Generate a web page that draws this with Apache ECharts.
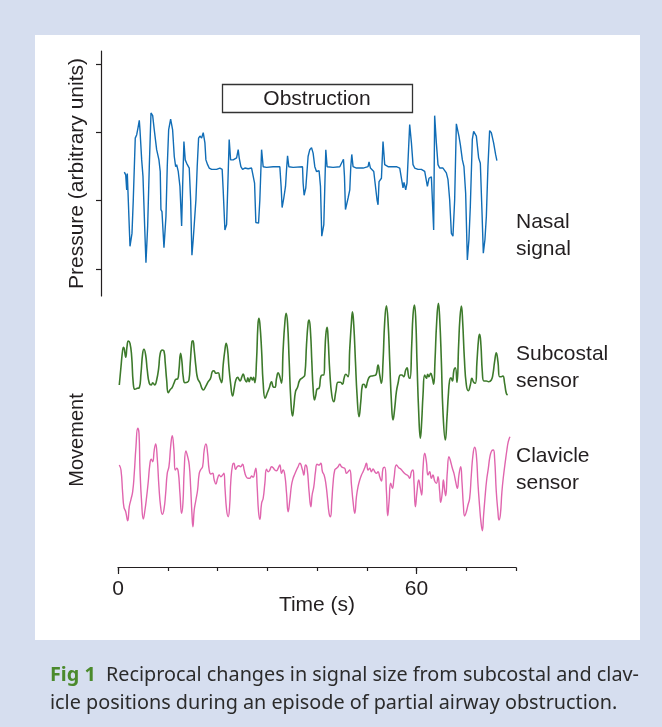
<!DOCTYPE html>
<html>
<head>
<meta charset="utf-8">
<script src="https://cdn.jsdelivr.net/npm/echarts@6/dist/echarts.min.js"></script>
<style>
  body { margin: 0; background: #d6deef; }
  #panel { position: absolute; left: 35px; top: 35px; width: 605px; height: 605px; background: #fff; }
  #main { position: absolute; left: 0; top: 0; width: 662px; height: 727px; }
</style>
</head>
<body>
<div id="panel"></div>
<div id="main"></div>
<script>
// time axis (s)
var timeTicks = [0, 10, 20, 30, 40, 50, 60, 70, 80]
var timeLabels = [0, 60]
var pressureTicks = [1, 2, 3, 4]

// nasal pressure signal [time, arbitrary units]
var nasalSignal = [
  [1.27,2.42],[1.55,2.38],[1.75,2.16],[1.87,2.40],[2.07,2.38],[2.41,1.33],[2.81,1.52],[3.07,2.01],[3.47,2.92],[3.76,2.97],
  [4.02,3.07],[4.28,3.18],[4.42,3.04],[4.76,2.60],[5.02,2.36],[5.36,1.62],[5.62,1.09],[5.96,1.62],[6.29,2.50],[6.63,3.29],
  [6.97,3.25],[7.29,3.04],[7.77,2.75],[8.23,2.60],[8.49,2.43],[8.63,1.87],[8.84,1.84],[9.24,1.31],[9.64,1.77],[9.90,2.50],
  [10.18,3.04],[10.58,3.20],[10.98,3.04],[11.31,2.65],[11.59,2.50],[11.79,2.53],[12.11,2.43],[12.45,2.21],[12.79,1.63],[12.99,2.21],
  [13.25,2.87],[13.51,2.60],[13.80,2.55],[14.12,2.55],[14.32,2.48],[14.60,2.01],[14.86,1.20],[15.12,1.43],[15.46,1.45],[15.66,2.01],
  [15.92,2.50],[16.20,2.92],[16.47,2.95],[16.81,2.92],[17.13,3.00],[17.47,2.85],[17.67,2.60],[18.01,2.53],[18.33,2.48],[18.82,2.46],
  [19.14,2.48],[19.82,2.46],[20.48,2.48],[20.94,2.46],[21.14,2.16],[21.49,1.57],[21.83,1.65],[22.15,2.41],[22.35,2.90],[22.63,2.60],
  [23.15,2.60],[23.84,2.63],[24.16,2.75],[24.36,2.63],[24.70,2.50],[25.04,2.46],[25.50,2.48],[26.16,2.47],[26.85,2.48],[27.17,2.46],
  [27.45,2.26],[27.71,1.68],[28.25,1.67],[28.51,2.01],[28.86,2.75],[29.18,2.50],[29.86,2.49],[31.18,2.50],[32.53,2.50],[32.79,2.21],
  [32.99,1.90],[33.33,2.04],[33.67,2.21],[33.88,2.46],[34.08,2.66],[34.34,2.50],[35.20,2.49],[37.09,2.50],[37.21,2.26],[37.41,2.08],
  [37.75,2.19],[38.21,2.65],[38.55,2.75],[38.90,2.78],[39.22,2.70],[39.56,2.50],[39.90,2.43],[40.42,2.44],[40.70,2.21],[40.96,1.48],
  [41.37,1.65],[41.57,2.21],[41.77,2.75],[42.03,2.50],[43.23,2.49],[44.58,2.50],[45.12,2.58],[45.32,2.61],[45.52,2.36],[45.72,1.87],
  [46.25,2.04],[46.59,2.16],[46.79,2.50],[46.99,2.68],[47.25,2.50],[47.93,2.48],[49.26,2.48],[50.26,2.50],[50.46,2.57],[50.74,2.48],
  [51.41,2.43],[51.81,2.41],[52.07,2.01],[52.27,1.94],[52.47,2.28],[52.95,2.33],[53.27,2.87],[53.61,2.53],[54.28,2.50],[55.96,2.50],
  [56.63,2.48],[56.97,2.46],[57.29,2.19],[57.49,2.27],[57.83,2.16],[58.09,2.26],[58.43,2.28],[58.63,3.12],[58.98,2.85],[59.30,2.53],
  [59.64,2.48],[60.30,2.46],[60.98,2.46],[61.65,2.43],[61.99,2.43],[62.19,2.21],[62.51,2.33],[62.99,2.35],[63.31,2.33],[63.45,1.57],
  [63.65,3.25],[63.99,2.85],[64.32,2.53],[64.66,2.48],[65.00,2.46],[65.32,2.48],[65.66,2.46],[66.00,2.41],[66.33,2.31],[66.67,2.01],
  [67.01,1.52],[67.33,1.48],[67.67,2.01],[68.01,3.13],[68.27,3.12],[68.53,2.95],[68.82,2.82],[69.22,2.60],[69.54,2.50],[69.88,2.11],
  [70.22,1.13],[70.54,1.43],[70.82,1.92],[71.22,2.90],[71.49,3.02],[72.03,2.95],[72.49,2.63],[72.83,2.55],[73.15,1.87],[73.43,1.23],
  [73.76,1.43],[74.04,1.77],[74.36,2.50],[74.70,3.03],[75.04,3.00],[75.50,2.85],[75.90,2.68],[76.16,2.59]
]

// subcostal movement [time, arbitrary units]
var subcostal = [
  [0.26,0],[0.60,1.83],[0.94,3.5],[1.14,3.77],[1.55,2.77],[1.81,3.83],[2.07,4.4],[2.41,4.17],[2.75,2.83],[3.07,0.17],
  [3.41,-0.43],[3.88,-0.33],[4.28,-0.27],[4.62,1.17],[4.96,3.17],[5.22,3.57],[5.56,3.0],[5.88,1.5],[6.29,0.17],[6.69,0],
  [6.97,0.23],[7.37,0],[7.77,0.5],[8.17,1.67],[8.49,3.17],[8.90,3.5],[9.24,3.4],[9.50,2.17],[9.78,0.5],[10.10,-0.77],
  [10.44,-0.5],[10.90,-0.23],[11.24,0.17],[11.65,0.57],[11.99,0.6],[12.25,1.5],[12.59,3.17],[12.85,2.33],[13.11,0.83],[13.45,0.23],
  [13.92,0.27],[14.26,0.5],[14.52,2.17],[14.86,4.33],[15.06,4.43],[15.32,3.5],[15.66,1.83],[16.0,0.67],[16.47,0.23],[16.87,-0.33],
  [17.13,-0.5],[17.61,-0.17],[18.13,0.33],[18.61,0.67],[18.94,1.33],[19.28,1.43],[19.68,1.17],[20.14,1.23],[20.48,0.67],[20.82,0.23],
  [21.14,2.0],[21.49,3.5],[21.75,4.17],[22.03,3.5],[22.29,1.83],[22.63,0.17],[23.03,-1.1],[23.36,-0.33],[23.69,0.5],[24.04,0.77],
  [24.30,0.57],[24.56,0.4],[24.90,0.83],[25.16,1.1],[25.50,0.57],[25.84,0.3],[26.10,0.73],[26.37,0.33],[26.71,0.77],[27.05,0.5],
  [27.25,0.77],[27.51,0.23],[27.85,2.5],[28.11,5.83],[28.31,6.67],[28.51,6.17],[28.86,3.5],[29.18,0.17],[29.58,-1.33],[29.98,-0.83],
  [30.38,-0.33],[30.86,0.33],[31.18,-0.17],[31.53,-0.23],[31.87,0.67],[32.19,1.23],[32.53,0.83],[32.87,0.17],[33.19,3.5],[33.53,6.17],
  [33.80,7.17],[34.08,6.17],[34.40,2.5],[34.74,-1.5],[35.08,-3.1],[35.34,-2.17],[35.68,-0.67],[36.09,-0.23],[36.55,0.5],[37.21,0.77],
  [37.55,1.0],[37.89,4.0],[38.21,6.17],[38.41,6.5],[38.69,5.33],[38.96,2.33],[39.22,-0.33],[39.50,-1.5],[39.76,-1.0],[40.02,-0.4],
  [40.42,-0.33],[40.76,0.83],[41.10,1.0],[41.37,1.0],[41.57,3.0],[41.77,5.0],[42.03,5.77],[42.23,4.67],[42.57,1.33],[42.97,-1.0],
  [43.37,-1.67],[43.78,-0.67],[44.24,0.27],[44.72,0.27],[45.12,0.07],[45.44,0.67],[45.78,1.07],[46.25,0.83],[46.59,3.67],[46.93,6.33],
  [47.13,7.33],[47.39,6.0],[47.73,2.33],[48.05,-1.0],[48.45,-3.17],[48.80,-1.67],[49.14,0],[49.46,0.07],[49.80,-0.27],[50.14,0.33],
  [50.60,0.83],[51.27,0.93],[51.81,1.0],[52.27,2.0],[52.61,1.0],[52.95,0.17],[53.27,2.33],[53.61,6.33],[53.95,7.93],[54.28,6.33],
  [54.62,2.33],[54.96,-1.67],[55.28,-3.5],[55.62,-2.33],[55.96,-0.67],[56.29,0.17],[56.77,1.0],[57.09,1.0],[57.43,0.83],[57.83,1.5],
  [58.09,1.73],[58.43,0.83],[58.69,0.67],[59.04,4.0],[59.30,7.0],[59.58,8.0],[59.84,6.67],[60.10,2.33],[60.44,-2.67],[60.78,-5.33],
  [61.04,-3.67],[61.31,-1.0],[61.65,1.0],[61.99,0.67],[62.25,1.07],[62.51,0.83],[62.85,1.17],[63.19,0.67],[63.45,0.07],[63.71,2.33],
  [64.06,6.33],[64.40,8.17],[64.66,6.67],[65.00,2.33],[65.32,-2.67],[65.80,-5.5],[66.12,-3.33],[66.40,-1.0],[66.67,0.5],[66.93,0.73],
  [67.21,0.4],[67.53,1.5],[67.81,1.73],[68.13,0.27],[68.47,4.0],[68.73,6.67],[69.02,7.9],[69.28,6.33],[69.62,2.67],[70.02,0],
  [70.42,-0.57],[70.82,0],[71.14,0.67],[71.49,0.27],[71.83,0.17],[72.15,2.33],[72.49,4.67],[72.69,5.07],[72.95,4.0],[73.23,1.33],
  [73.55,0.4],[74.04,0.4],[74.50,0.33],[75.04,0.5],[75.36,1.07],[75.70,2.33],[76.04,3.23],[76.37,2.33],[76.71,0.83],[77.05,0.83],
  [77.37,0.9],[77.71,0.17],[78.05,-0.83],[78.31,-1.0]
]

// clavicle movement [time, arbitrary units]
var clavicle = [
  [0.26,0],[0.60,-0.5],[0.94,-2.83],[1.20,-4.23],[1.55,-4.67],[1.95,-5.57],[2.27,-4.17],[2.61,-3.43],[2.95,-2.67],[3.27,-0.83],
  [3.61,1.83],[3.96,3.67],[4.22,3.17],[4.42,-0.5],[4.76,-3.83],[5.08,-5.4],[5.42,-4.5],[5.76,-3.17],[6.08,-1.67],[6.43,0.17],
  [6.69,0.57],[6.97,0.33],[7.29,1.5],[7.57,2.1],[7.89,0.67],[8.23,-2.17],[8.57,-4.17],[8.90,-4.93],[9.24,-4.43],[9.58,-2.83],
  [9.90,-0.83],[10.24,-0.17],[10.58,1.83],[10.90,2.93],[11.24,1.5],[11.51,-0.5],[11.79,-0.33],[12.11,-0.67],[12.45,-2.83],[12.79,-4.83],
  [13.05,-3.83],[13.31,-0.5],[13.65,1.4],[14.0,0.83],[14.32,0],[14.60,-2.17],[14.86,-4.83],[15.06,-6.17],[15.32,-4.5],[15.66,-3.5],
  [16.0,-2.5],[16.33,-0.83],[16.67,-0.43],[17.01,-0.17],[17.33,1.5],[17.67,2.1],[18.01,1.17],[18.33,-0.5],[18.67,-0.9],[19.02,-0.83],
  [19.34,-1.5],[19.68,-1.9],[20.02,-1.33],[20.34,-1.0],[20.68,-1.17],[21.02,-1.0],[21.29,-0.83],[21.49,-2.17],[21.83,-4.5],[22.15,-5.17],
  [22.43,-4.17],[22.69,-1.5],[23.03,0],[23.29,0.17],[23.63,-0.43],[23.96,-0.17],[24.30,-0.07],[24.64,-0.17],[25.04,0.07],[25.36,-0.5],
  [25.70,-1.1],[26.10,-1.33],[26.51,-1.33],[26.85,-1.1],[27.17,-1.23],[27.51,-0.67],[27.71,-0.33],[27.97,-2.17],[28.25,-4.67],[28.51,-5.43],
  [28.86,-3.83],[29.18,-3.33],[29.52,-1.83],[29.86,-0.43],[30.18,-0.67],[30.52,-0.5],[30.86,-0.17],[31.18,-0.27],[31.53,-0.5],[31.87,-0.57],
  [32.19,-0.33],[32.53,0],[32.87,-0.83],[33.19,-0.5],[33.53,-1.0],[33.88,-2.83],[34.20,-4.67],[34.54,-3.5],[34.88,-2.0],[35.20,-1.33],
  [35.54,-0.9],[35.88,-0.5],[36.20,-0.17],[36.55,0.17],[37.09,-0.5],[37.35,-1.0],[37.69,0],[38.01,-0.33],[38.41,-2.67],[38.76,-4.17],
  [39.02,-3.0],[39.36,-2.17],[39.70,-0.67],[40.02,0.07],[40.42,0],[40.76,0.17],[41.10,-0.67],[41.43,-1.0],[41.77,-1.83],[42.11,-3.33],
  [42.43,-4.83],[42.71,-5.17],[42.97,-3.67],[43.23,-1.83],[43.57,-0.5],[43.92,-0.33],[44.24,-0.17],[44.58,0.07],[44.92,-0.17],[45.24,-0.27],
  [45.58,-0.33],[45.92,-0.83],[46.25,-0.67],[46.59,-0.5],[46.93,-2.0],[47.25,-3.67],[47.59,-4.83],[47.93,-3.17],[48.25,-2.17],[48.59,-1.5],
  [48.94,-1.0],[49.26,-0.67],[49.60,-0.27],[49.94,0.17],[50.26,-0.5],[50.60,-0.33],[50.94,-0.67],[51.27,-0.4],[51.61,-0.67],[51.95,-0.83],
  [52.27,-0.67],[52.61,-1.17],[52.95,-1.6],[53.27,-0.33],[53.61,-0.23],[53.96,-2.67],[54.22,-5.07],[54.48,-3.67],[54.82,-1.83],[55.16,-2.33],
  [55.48,-1.33],[55.96,0],[56.43,-0.27],[56.83,-0.4],[57.29,-0.67],[57.83,-0.93],[58.29,-1.07],[58.63,-1.33],[58.98,-0.67],[59.30,-0.5],
  [59.50,-1.83],[59.78,-4.17],[60.10,-2.67],[60.44,-1.5],[60.78,-2.33],[61.04,-3.0],[61.31,-0.33],[61.65,1.17],[61.99,0.33],[62.31,-1.0],
  [62.65,-0.67],[62.99,-1.33],[63.31,-1.0],[63.65,-1.6],[64.0,-1.83],[64.32,-1.17],[64.66,-2.67],[64.86,-3.73],[65.20,-2.67],[65.40,-1.5],
  [65.66,-2.5],[65.86,-3.07],[66.20,-0.67],[66.53,0.83],[66.87,0.33],[67.21,-0.33],[67.53,-0.83],[67.87,-1.67],[68.21,-2.33],[68.53,-1.0],
  [68.88,-0.17],[69.14,-1.67],[69.42,-4.0],[69.68,-5.1],[70.02,-4.67],[70.34,-4.0],[70.68,-3.33],[71.02,-1.0],[71.35,1.0],[71.69,1.77],
  [72.03,1.0],[72.35,-1.83],[72.69,-4.17],[72.95,-5.67],[73.23,-6.57],[73.49,-5.0],[73.76,-3.33],[74.10,-1.5],[74.44,-0.33],[74.76,0.83],
  [75.10,1.4],[75.44,1.5],[75.70,0.67],[76.04,-2.67],[76.37,-4.67],[76.57,-5.5],[76.85,-5.0],[77.17,-2.67],[77.51,-1.0],[77.85,0.33],
  [78.17,1.5],[78.45,2.33],[78.78,2.83]
]

var font = 'Liberation Sans, Arial, sans-serif'
var ink = '#231f20'
var fs = 21

var myChart = echarts.init(document.getElementById('main'))
var option = {
  animation: false,
  grid: [
    { left: 118, right: 146, top: 51, height: 245 },
    { left: 118, right: 146, top: 295, height: 150 },
    { left: 118, right: 146, top: 420, height: 115 },
    { left: 118, right: 146, top: 500, height: 67.5 }
  ],
  xAxis: [
    { gridIndex: 0, type: 'value', min: 0, max: 80, show: false },
    { gridIndex: 1, type: 'value', min: 0, max: 80, show: false },
    { gridIndex: 2, type: 'value', min: 0, max: 80, show: false },
    {
      gridIndex: 3, type: 'value', min: 0, max: 80, position: 'bottom',
      axisLine: { show: true, onZero: false, lineStyle: { color: ink, width: 1.2 } },
      axisTick: { show: true, length: 3.5, customValues: timeTicks, lineStyle: { color: ink, width: 1.2 } },
      axisLabel: { show: false },
      splitLine: { show: false }
    },
    {
      gridIndex: 3, type: 'value', min: 0, max: 80, position: 'bottom',
      axisLine: { show: false, onZero: false },
      axisTick: { show: true, length: 6.5, customValues: timeLabels, lineStyle: { color: ink, width: 1.2 } },
      axisLabel: { show: true, customValues: timeLabels, margin: 11, color: ink, fontSize: fs, fontFamily: font },
      splitLine: { show: false },
      name: 'Time (s)', nameLocation: 'middle', nameGap: 27, nameMoveOverlap: false,
      nameTextStyle: { color: ink, fontSize: fs, fontFamily: font }
    }
  ],
  yAxis: [
    {
      gridIndex: 0, type: 'value', min: 0.6, max: 4.2, offset: 17,
      axisLine: { show: true, onZero: false, lineStyle: { color: ink, width: 1.2 } },
      axisTick: { show: true, length: 5, customValues: pressureTicks, lineStyle: { color: ink, width: 1.2 } },
      axisLabel: { show: false },
      splitLine: { show: false },
      name: 'Pressure (arbitrary units)', nameLocation: 'middle', nameGap: 13, nameRotate: 90,
      nameTextStyle: { color: ink, fontSize: fs, fontFamily: font }
    },
    { gridIndex: 1, type: 'value', min: -6, max: 9, show: false },
    { gridIndex: 2, type: 'value', min: -7, max: 4.5, show: false },
    { gridIndex: 3, type: 'value', min: 0, max: 1, show: false }
  ],
  series: [
    {
      name: 'Nasal signal', type: 'line', xAxisIndex: 0, yAxisIndex: 0,
      data: nasalSignal, showSymbol: false,
      lineStyle: { color: '#116db6', width: 1.4 }
    },
    {
      name: 'Subcostal sensor', type: 'line', xAxisIndex: 1, yAxisIndex: 1,
      data: subcostal, showSymbol: false, smooth: 0.5,
      lineStyle: { color: '#3d7a2b', width: 1.6 }
    },
    {
      name: 'Clavicle sensor', type: 'line', xAxisIndex: 2, yAxisIndex: 2,
      data: clavicle, showSymbol: false, smooth: 0.5,
      lineStyle: { color: '#e065ae', width: 1.4 }
    }
  ],
  graphic: [
    {
      type: 'rect', shape: { x: 222.5, y: 84.5, width: 190, height: 28 },
      style: { fill: '#fff', stroke: '#333', lineWidth: 1.3 }
    },
    {
      type: 'text', x: 317, y: 99,
      style: { text: 'Obstruction', fill: ink, font: fs + 'px ' + font, align: 'center', verticalAlign: 'middle' }
    },
    {
      type: 'text', x: 516, y: 236,
      style: { text: 'Nasal\nsignal', fill: ink, font: fs + 'px ' + font, lineHeight: 27, verticalAlign: 'middle' }
    },
    {
      type: 'text', x: 516, y: 368,
      style: { text: 'Subcostal\nsensor', fill: ink, font: fs + 'px ' + font, lineHeight: 27, verticalAlign: 'middle' }
    },
    {
      type: 'text', x: 516, y: 470,
      style: { text: 'Clavicle\nsensor', fill: ink, font: fs + 'px ' + font, lineHeight: 27, verticalAlign: 'middle' }
    },
    {
      type: 'text', x: 77, y: 440, rotation: Math.PI / 2,
      style: { text: 'Movement', fill: ink, font: '20px ' + font, align: 'center', verticalAlign: 'middle' }
    },
    {
      type: 'text', x: 50, y: 661,
      style: {
        text: '{fig|Fig 1}  Reciprocal changes in signal size from subcostal and clav-\nicle positions during an episode of partial airway obstruction.',
        fill: '#2b2b2b', font: '19.8px Noto Sans', lineHeight: 28,
        rich: {
          fig: { fill: '#4b8a2c', fontWeight: 'bold', fontSize: 19.8, fontFamily: 'Noto Sans' }
        }
      }
    }
  ]
}
myChart.setOption(option)
window.addEventListener('resize', function () {
  myChart.resize()
})
</script>
</body>
</html>
